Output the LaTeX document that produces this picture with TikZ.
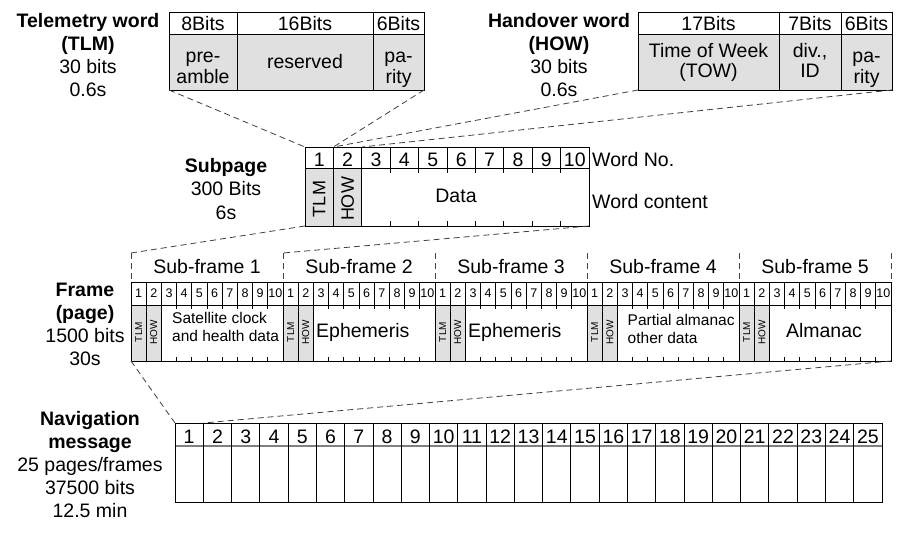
\documentclass[tikz,border=0pt]{standalone}
\usepackage{fontspec}
\setmainfont{Liberation Sans}
\usetikzlibrary{calc}
\definecolor{lgray}{rgb}{0.88,0.88,0.88}
\definecolor{dgray}{rgb}{0.25,0.25,0.25}
\newcommand{\fnt}[2]{\fontsize{#1}{#2}\selectfont}
% column widths: subpage, frame, navigation message
\newcommand{\spw}{28.4}
\newcommand{\frw}{15.2}
\newcommand{\nvw}{28.28}
\tikzset{
  box/.style={line width=0.9pt},
  dashline/.style={dgray, line width=0.8pt, dash pattern=on 6pt off 4pt},
  txt/.style={inner sep=0pt, font=\fnt{19.5}{23}},
  ttl/.style={txt, align=center, anchor=north},
  cell/.style={txt, anchor=base},
  two/.style={txt, align=center, anchor=north, font=\fnt{19.5}{20.5}},
  rot/.style={inner sep=0pt, rotate=90, font=\fnt{18}{18}},
  frot/.style={inner sep=0pt, rotate=90, font=\fnt{10}{10}},
  fcell/.style={inner sep=0pt, anchor=base, font=\fnt{12.5}{12.5}},
  fsmall/.style={inner sep=0pt, align=left, anchor=north west, font=\fnt{15.5}{18}},
}
\begin{document}
\begin{tikzpicture}[x=1pt,y=-1pt]
\useasboundingbox (0,0) rectangle (907,546);

% telemetry word
\node[ttl] (tlmlbl) at (88,13) {\textbf{Telemetry word}\\\textbf{(TLM)}\\30 bits\\0.6s};
\fill[lgray] (169,34) rectangle (424,90);
\draw[box] (169,12) rectangle (424,90);
\draw[box] (169,34) -- (424,34);
\draw[box] (237,12) -- (237,90);
\draw[box] (373,12) -- (373,90);
\node[cell] (tlmh1) at (203,30) {8Bits};
\node[cell] (tlmh2) at (305,30) {16Bits};
\node[cell] (tlmh3) at (398.5,30) {6Bits};
\node[two] (tlmc1) at (203,52) {pre-\\amble};
\node[cell] (tlmc2) at (305,68) {reserved};
\node[two] (tlmc3) at (398.5,52) {pa-\\rity};

% handover word
\node[ttl] (howlbl) at (559,13) {\textbf{Handover word}\\\textbf{(HOW)}\\30 bits\\0.6s};
\fill[lgray] (638,34) rectangle (892,90);
\draw[box] (638,12) rectangle (892,90);
\draw[box] (638,34) -- (892,34);
\draw[box] (779,12) -- (779,90);
\draw[box] (841,12) -- (841,90);
\node[cell] (howh1) at (708.5,30) {17Bits};
\node[cell] (howh2) at (810,30) {7Bits};
\node[cell] (howh3) at (866.5,30) {6Bits};
\node[two] (howc1) at (708.5,43) {Time of Week\\(TOW)};
\node[two] (howc2) at (810,43) {div.,\\ID};
\node[two] (howc3) at (866.5,52) {pa-\\rity};

% subpage
\node[ttl, font=\fnt{19.5}{23.5}] (splbl) at (226,158) {\textbf{Subpage}\\300 Bits\\6s};
\fill[lgray] (305,168) rectangle ({305+2*\spw},226);
\foreach \i in {1,...,10}
  \node[cell] (spn\i) at ({305+\spw*(\i-0.5)},166.5) {\i};
\foreach \i in {1,...,9}
  \draw[box] ({305+\spw*\i},147) -- ({305+\spw*\i},168);
\draw[box] ({305+\spw},168) -- ({305+\spw},226);
\draw[box] ({305+2*\spw},168) -- ({305+2*\spw},226);
\foreach \i in {3,...,9}{
  \draw[box] ({305+\spw*\i},168) -- ++(0,5);
  \draw[box] ({305+\spw*\i},226) -- ++(0,-5);
}
\draw[box] (305,147) rectangle (589,226);
\draw[box] (305,168) -- (589,168);
\node[rot] (sptlm) at ({305+0.5*\spw},199) {TLM};
\node[rot] (sphow) at ({305+1.5*\spw},199) {HOW};
\node[cell] (spdata) at (456,202) {Data};
\node[txt, anchor=base west] (spwno) at (592,166) {Word No.};
\node[txt, anchor=base west] (spwc) at (592,208) {Word content};

% frame, five sub-frames
\node[ttl] (frlbl) at (85,283) {\textbf{Frame}\\\textbf{(page)}\\1500 bits\\30s};
\foreach \s in {0,...,4}{
  \pgfmathsetmacro{\xs}{131+152*\s}
  \pgfmathtruncatemacro{\n}{\s+1}
  \fill[lgray] (\xs,305) rectangle ({\xs+2*\frw},361);
  \node[cell] (sf\n) at ({\xs+76},273) {Sub-frame \n};
  \draw[dashline] (\xs,253) -- (\xs,282);
  \foreach \w in {1,...,10}
    \node[fcell] (f\n-\w) at ({\xs+\frw*(\w-0.5)},297) {\w};
  \foreach \w in {1,...,9}
    \draw[box] ({\xs+\frw*\w},282) -- ({\xs+\frw*\w},305);
  \draw[box] ({\xs+\frw},305) -- ({\xs+\frw},361);
  \draw[box] ({\xs+2*\frw},305) -- ({\xs+2*\frw},361);
  \foreach \w in {3,...,9}{
    \draw[box] ({\xs+\frw*\w},305) -- ++(0,4);
    \draw[box] ({\xs+\frw*\w},361) -- ++(0,-4);
  }
  \draw[box] (\xs,282) -- (\xs,361);
  \node[frot] (f\n-tlm) at ({\xs+0.5*\frw},332) {TLM};
  \node[frot] (f\n-how) at ({\xs+1.5*\frw},332) {HOW};
}
\draw[dashline] (891,253) -- (891,282);
\draw[box] (131,282) rectangle (891,361);
\draw[box] (131,305) -- (891,305);
\node[fsmall] (sf1txt) at (172,312) {Satellite clock\\and health data};
\node[cell, anchor=base west] (sf2txt) at (316,337) {Ephemeris};
\node[cell, anchor=base west] (sf3txt) at (468,337) {Ephemeris};
\node[fsmall] (sf4txt) at (627.5,314) {Partial almanac\\other data};
\node[cell] (sf5txt) at (824,337) {Almanac};

% navigation message
\node[ttl] (nvlbl) at (90,411) {\textbf{Navigation}\\\textbf{message}\\25 pages/frames\\37500 bits\\12.5 min};
\draw[gray, line width=1.6pt] (175,446) -- (882,446);
\foreach \i in {1,...,24}
  \draw[box] ({175+\nvw*\i},423) -- ({175+\nvw*\i},502);
\draw[box] (175,423) rectangle (882,502);
\foreach \i in {1,...,25}
  \node[cell] (nv\i) at ({175+\nvw*(\i-0.5)},443) {\i};

% connectors
\coordinate (tlmBL) at (169,90);
\coordinate (tlmBR) at (424,90);
\coordinate (howBL) at (638,90);
\coordinate (howBR) at (892,90);
\coordinate (spA) at (305,147);
\coordinate (spB) at ({305+\spw},147);
\coordinate (spC) at ({305+2*\spw},147);
\coordinate (spBL) at (305,226);
\coordinate (spBR) at (589,226);
\coordinate (frA) at (131,253);
\coordinate (frB) at (283,253);
\coordinate (frBL) at (131,361);
\coordinate (frBR) at (891,361);
\coordinate (nvA) at (175,423);
\coordinate (nvB) at ({175+\nvw},423);
\draw[dashline] (tlmBL) -- (spA);
\draw[dashline] (tlmBR) -- (spB);
\draw[dashline] (howBL) -- (spB);
\draw[dashline] (howBR) -- (spC);
\draw[dashline] (spBL) -- (frA);
\draw[dashline] (spBR) -- (frB);
\draw[dashline] (frBL) -- (nvA);
\draw[dashline] (frBR) -- (nvB);
\end{tikzpicture}
\end{document}
